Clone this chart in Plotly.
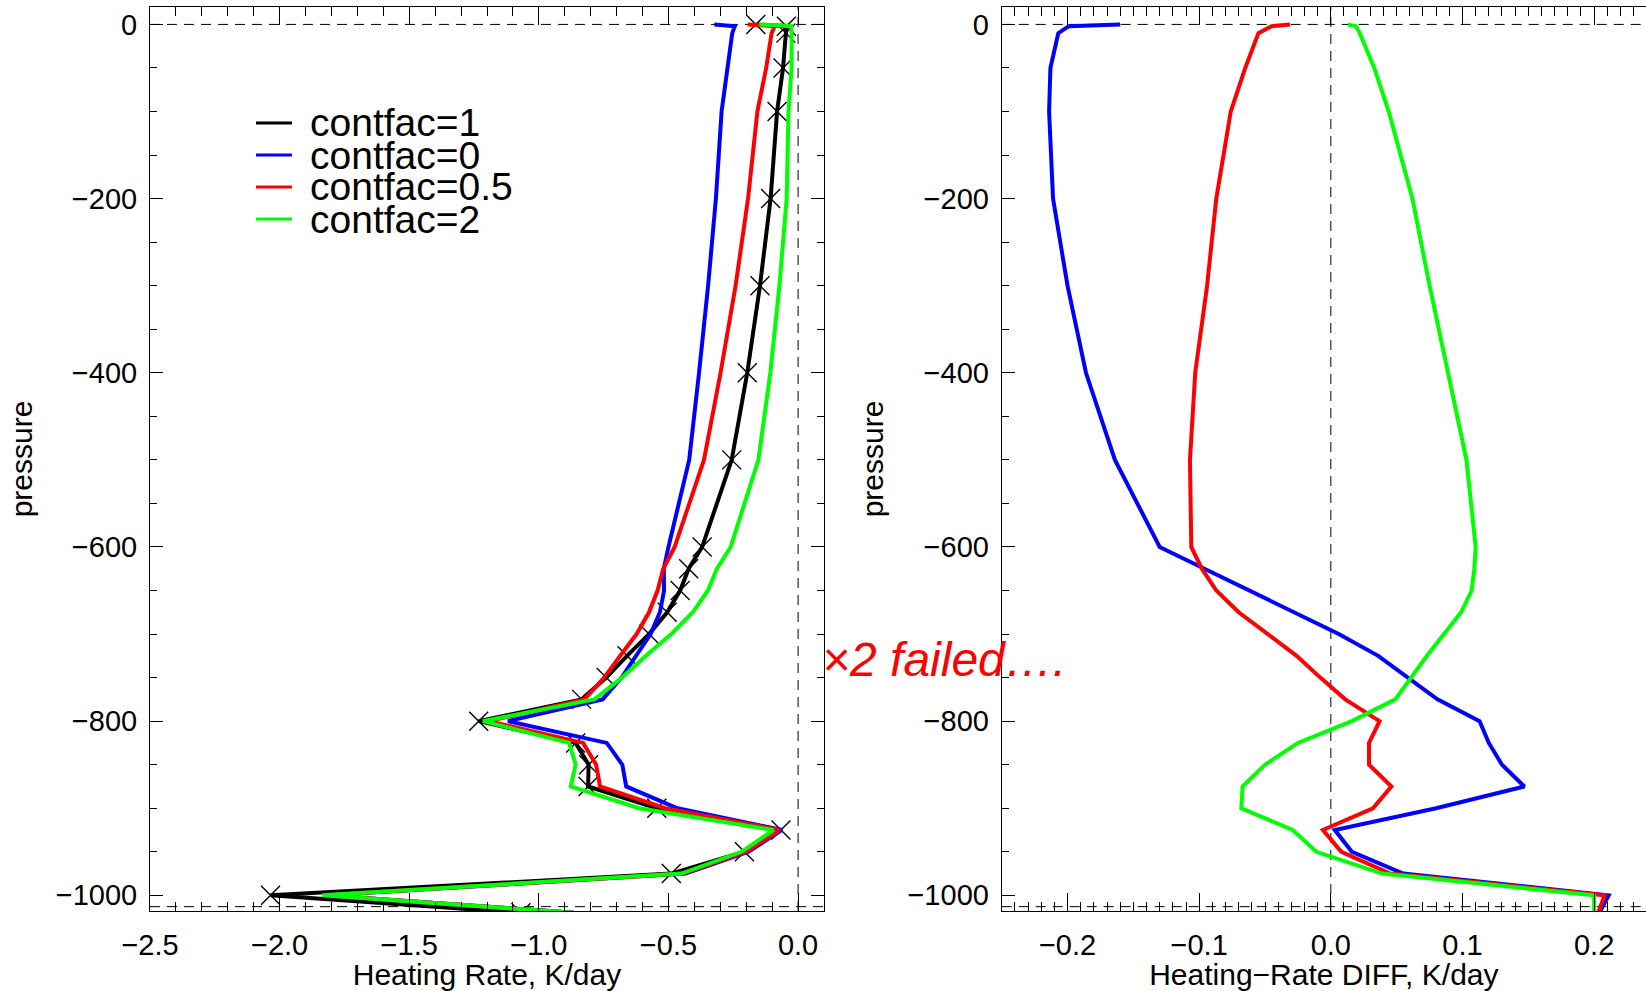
import plotly.graph_objects as go

# ---------------- data ----------------
pressure = [0, -2, -10, -50, -100, -200, -300, -400, -500, -600, -625, -650, -675,
            -700, -725, -750, -775, -800, -825, -850, -875, -900, -925, -950, -975,
            -1000, -1020]

# Heating rate, K/day
hr_contfac1 = [-0.163, -0.045, -0.047, -0.058, -0.081, -0.106, -0.147, -0.196, -0.256,
               -0.370, -0.422, -0.455, -0.505, -0.575, -0.660, -0.740, -0.835, -1.232,
               -0.858, -0.808, -0.810, -0.545, -0.066, -0.207, -0.489, -2.035, -1.069]
hr_contfac0 = [-0.323, -0.244, -0.254, -0.271, -0.295, -0.317, -0.347, -0.382, -0.420,
               -0.500, -0.518, -0.517, -0.533, -0.569, -0.624, -0.681, -0.754, -1.119,
               -0.738, -0.678, -0.663, -0.465, -0.063, -0.191, -0.434, -1.824, -0.865]
hr_contfac05 = [-0.194, -0.090, -0.102, -0.123, -0.157, -0.193, -0.241, -0.299, -0.363,
                -0.476, -0.520, -0.542, -0.575, -0.623, -0.686, -0.748, -0.824, -1.195,
                -0.829, -0.779, -0.764, -0.513, -0.072, -0.199, -0.444, -1.827, -0.866]
hr_contfac2 = [-0.150, -0.026, -0.025, -0.025, -0.037, -0.044, -0.072, -0.107, -0.153,
               -0.260, -0.313, -0.348, -0.406, -0.489, -0.587, -0.679, -0.786, -1.216,
               -0.883, -0.858, -0.877, -0.613, -0.095, -0.218, -0.450, -1.835, -0.869]

# Heating-rate differences (contfac=x minus contfac=1), K/day
diff_contfac0 = [-0.160, -0.199, -0.207, -0.213, -0.214, -0.211, -0.200, -0.186, -0.164,
                 -0.130, -0.096, -0.062, -0.028, 0.006, 0.036, 0.059, 0.081, 0.113,
                 0.120, 0.130, 0.147, 0.080, 0.003, 0.016, 0.055, 0.211, 0.204]
diff_contfac05 = [-0.031, -0.045, -0.055, -0.065, -0.076, -0.087, -0.094, -0.103, -0.107,
                  -0.106, -0.098, -0.087, -0.070, -0.048, -0.026, -0.008, 0.011, 0.037,
                  0.029, 0.029, 0.046, 0.032, -0.006, 0.008, 0.045, 0.208, 0.203]
diff_contfac2 = [0.013, 0.019, 0.022, 0.033, 0.044, 0.062, 0.075, 0.089, 0.103,
                 0.110, 0.109, 0.107, 0.099, 0.086, 0.073, 0.061, 0.049, 0.016,
                 -0.025, -0.050, -0.067, -0.068, -0.029, -0.011, 0.039, 0.200, 0.200]

legend_labels = ["contfac=1", "contfac=0", "contfac=0.5", "contfac=2"]
legend_colors = ["#000000", "#0000ff", "#ff0000", "#00ff00"]
ref_pressures = [0, -1013]
ref_zero = 0
note_text = "\u00d72 failed\u2026."

# ---------------- figure ----------------
FONT = "Liberation Sans, Arial, Helvetica, sans-serif"
W, H = 1646, 991
fig = go.Figure()

LW = 4
fig.add_trace(go.Scatter(
    x=hr_contfac1, y=pressure, mode="lines+markers", xaxis="x", yaxis="y",
    line=dict(color=legend_colors[0], width=LW),
    marker=dict(symbol="x-thin", size=19, color="black",
                line=dict(color="black", width=1.4)),
    showlegend=False, name=legend_labels[0]))
for vals, col, nm in [(hr_contfac0, legend_colors[1], legend_labels[1]),
                      (hr_contfac05, legend_colors[2], legend_labels[2]),
                      (hr_contfac2, legend_colors[3], legend_labels[3])]:
    fig.add_trace(go.Scatter(x=vals, y=pressure, mode="lines", xaxis="x", yaxis="y",
                             line=dict(color=col, width=LW), showlegend=False, name=nm))

for vals, col, nm in [(diff_contfac0, legend_colors[1], legend_labels[1]),
                      (diff_contfac05, legend_colors[2], legend_labels[2]),
                      (diff_contfac2, legend_colors[3], legend_labels[3])]:
    fig.add_trace(go.Scatter(x=vals, y=pressure, mode="lines", xaxis="x2", yaxis="y2",
                             line=dict(color=col, width=LW), showlegend=False, name=nm))

tickfont = dict(family=FONT, size=29, color="black")
titlefont = dict(family=FONT, size=30, color="black")

def xax(domain, rng, dtick, minor, title, anchor):
    return dict(domain=domain, range=rng, anchor=anchor, tick0=0, dtick=dtick,
                tickformat=".1f", showline=True, linecolor="black", linewidth=1,
                mirror="ticks", ticks="inside", ticklen=18, tickwidth=1,
                tickcolor="black", showgrid=False, zeroline=False, automargin=False,
                tickfont=tickfont, ticklabelstandoff=8,
                minor=dict(dtick=minor, tick0=0, ticks="inside", ticklen=9,
                           tickcolor="black", tickwidth=1, showgrid=False),
                title=dict(text=title, font=titlefont, standoff=2))

def yax(domain, anchor, mirror):
    return dict(domain=domain, range=[-1018, 20], anchor=anchor, tick0=0, dtick=200,
                showline=True, linecolor="black", linewidth=1, mirror=mirror,
                ticks="inside", ticklen=13, tickwidth=1, tickcolor="black",
                showgrid=False, zeroline=False, tickfont=tickfont, automargin=False,
                ticklabelstandoff=6,
                minor=dict(dtick=50, tick0=0, ticks="inside", ticklen=7,
                           tickcolor="black", tickwidth=1, showgrid=False),
                title=dict(text="pressure", font=titlefont, standoff=14))

ydom = [1 - 911 / H, 1 - 7 / H]
fig.update_layout(
    width=W, height=H, autosize=False,
    margin=dict(l=0, r=0, t=0, b=0, autoexpand=False),
    paper_bgcolor="white", plot_bgcolor="white",
    xaxis=xax([150 / W, 824 / W], [-2.5, 0.1], 0.5, 0.1, "Heating Rate, K/day", "y"),
    yaxis=yax(ydom, "x", "ticks"),
    xaxis2=xax([1001.7 / W, 1.0], [-0.25, 0.2394], 0.1, 0.01,
               "Heating\u2212Rate DIFF, K/day", "y2"),
    yaxis2=yax(ydom, "x2", False),
    showlegend=False,
)

# dashed reference lines
dash = dict(color="black", width=1, dash="10px,7px")
shapes = []
for xr, yr in [("x", "y"), ("x2", "y2")]:
    shapes.append(dict(type="line", xref=xr, yref=yr + " domain", x0=ref_zero, x1=ref_zero,
                       y0=0, y1=1, line=dash, layer="below"))
    for p in ref_pressures:
        shapes.append(dict(type="line", xref=xr + " domain", yref=yr, x0=0, x1=1,
                           y0=p, y1=p, line=dash, layer="below"))

# legend (IDL-style, tight spacing)
annotations = []
leg_y = [123, 155, 187, 219]
for lab, col, yy in zip(legend_labels, legend_colors, leg_y):
    shapes.append(dict(type="line", xref="paper", yref="paper", x0=256 / W, x1=292 / W,
                       y0=1 - yy / H, y1=1 - yy / H, line=dict(color=col, width=3)))
    annotations.append(dict(text=lab, xref="paper", yref="paper", x=308 / W, y=1 - yy / H,
                            xanchor="left", yanchor="middle", showarrow=False,
                            height=31, valign="middle",
                            font=dict(family=FONT, size=39, color="black")))

annotations.append(dict(text="<i>" + note_text + "</i>", xref="paper", yref="paper",
                        x=820 / W, y=1 - 659 / H, xanchor="left", yanchor="middle",
                        showarrow=False,
                        font=dict(family=FONT, size=48, color="#ff0000")))

fig.update_layout(shapes=shapes, annotations=annotations)
fig.write_html("out.html")
